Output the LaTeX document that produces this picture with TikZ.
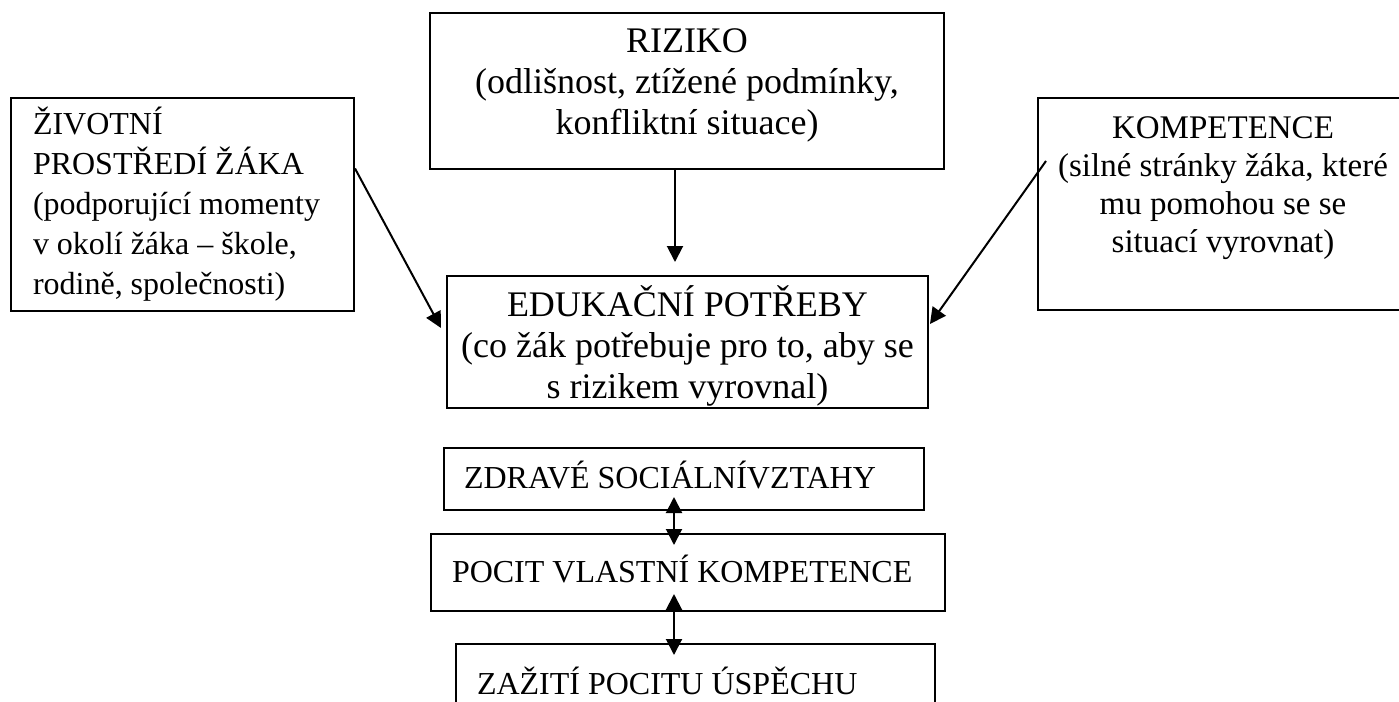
\documentclass[tikz,border=0pt]{standalone}
\usepackage{fontspec}
\setmainfont{Liberation Serif}
\usetikzlibrary{arrows.meta}
\newcommand{\bxc}[4]{\parbox[c][#2][t]{#1}{\centering\rule{0pt}{#3}#4}}
\newcommand{\bxl}[5]{\parbox[c][#2][t]{#1}{\raggedright\leftskip=#4\relax\rule{0pt}{#3}#5}}
\tikzset{bx/.style={
  draw,
  line width=1pt,
  inner sep=0pt,
  anchor=north west,
}}
\tikzset{sm/.style={bx,font=\fontsize{16}{20}\selectfont}}
\tikzset{lg/.style={bx,font=\fontsize{18}{20.5}\selectfont}}
\tikzset{arr/.style={line width=1pt,-{Triangle[length=8pt,width=8pt]}}}
\tikzset{darr/.style={line width=1pt,{Triangle[length=8pt,width=8pt]}-{Triangle[length=8pt,width=8pt]}}}

\begin{document}
\begin{tikzpicture}[x=0.5pt,y=-0.5pt]
    \useasboundingbox (0,0) rectangle (1399,702);
    % Top row
    \node[sm] (env) at (10,97) {\bxl{171.5pt}{106.5pt}{18pt}{11pt}{ŽIVOTNÍ\\
      PROSTŘEDÍ ŽÁKA\\ (podporující momenty\\ v okolí žáka – škole,\\
      rodině, společnosti)}};
    \node[lg] (riz) at (429,12) {\bxc{257pt}{78pt}{19.5pt}{RIZIKO\\
      (odlišnost, ztížené podmínky,\\ konfliktní situace)}};
    \node[sm,font=\fontsize{16.5}{19}\selectfont] (kom) at (1037,97) {\bxc{185pt}{106pt}{20pt}{KOMPETENCE\\
      (silné stránky žáka, které\\ mu pomohou se se\\ situací vyrovnat)}\hspace*{5pt}};
    \node[lg] (edu) at (446,275) {\bxc{240.5pt}{66pt}{20pt}{EDUKAČNÍ POTŘEBY\\
      (co žák potřebuje pro to, aby se\\ s rizikem vyrovnal)}};
    % Bottom column
    \node[sm] (zdr) at (443,447) {\bxl{240pt}{31pt}{20pt}{10pt}{ZDRAVÉ SOCIÁLNÍVZTAHY}};
    \node[sm] (poc) at (430,533) {\bxl{257pt}{38.5pt}{24pt}{10.5pt}{POCIT VLASTNÍ KOMPETENCE}};
    \node[sm] (zaz) at (455,643) {\bxl{239.5pt}{40pt}{25pt}{10.5pt}{ZAŽITÍ POCITU ÚSPĚCHU}};
    % Arrows
    \draw[arr,shorten >=6.5pt] ([xshift=-6pt]riz.south) -- ([xshift=-6.25pt]edu.north);
    \draw[arr] ([yshift=18pt]env.east) -- ([xshift=-2.5pt,yshift=7pt]edu.west);
    \draw[arr] ([xshift=4.5pt,yshift=21.5pt]kom.west) -- ([xshift=0.5pt,yshift=9pt]edu.east);
    \draw[darr,shorten <=-7pt,shorten >=-6pt] ([xshift=-5pt]zdr.south) -- ([xshift=-7pt]poc.north);
    \draw[darr,shorten <=-9pt,shorten >=-6pt] ([xshift=-7pt]poc.south) -- ([xshift=-10.75pt]zaz.north);
  \end{tikzpicture}
\end{document}
